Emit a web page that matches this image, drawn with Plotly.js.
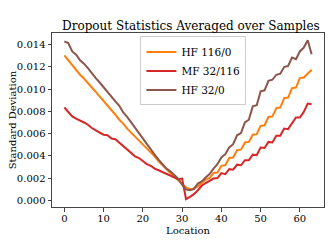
<!DOCTYPE html>
<html>
<head>
<meta charset="utf-8">
<script src="https://cdn.plot.ly/plotly-3.0.1.min.js"></script>
<style>html,body{margin:0;padding:0;background:#fff;}#chart{width:332px;height:249px;}</style>
</head>
<body>
<div id="chart"></div>
<script>
// values in units of 1e-3
const location_ = Array.from({length: 64}, (_, i) => i);
const hf116_0 = [13.05,12.6,12.1,11.7,11.3,10.95,10.5,10.15,9.75,9.35,
  8.95,8.5,8.1,7.7,7.25,6.9,6.45,6.1,5.75,5.4,
  5.05,4.7,4.3,3.95,3.5,3.1,2.8,2.45,2.15,1.8,
  1.45,1.15,1.0,1.05,1.25,1.55,1.85,2.0,2.45,2.5,
  3.1,3.15,3.8,3.85,4.5,4.55,5.2,5.25,5.9,5.95,
  6.7,6.75,7.5,7.55,8.3,8.35,9.2,9.25,10.1,10.15,
  11.0,11.05,11.4,11.75];
const mf32_116 = [8.35,7.9,7.55,7.35,7.2,7.0,6.8,6.5,6.3,6.1,
  5.9,5.85,5.55,5.5,5.2,4.9,4.55,4.25,3.95,3.8,
  3.5,3.25,3.1,2.85,2.7,2.55,2.4,2.25,2.05,1.9,
  1.95,0.1,0.3,0.55,0.9,1.3,1.55,1.75,1.95,2.0,
  2.45,2.35,2.8,2.75,3.2,3.15,3.6,3.6,4.1,4.05,
  4.75,4.7,5.25,5.2,5.8,5.8,6.45,6.4,6.95,7.45,
  7.45,7.95,8.7,8.65];
const hf32_0 = [14.3,14.15,13.4,13.1,12.6,12.3,11.9,11.4,11.0,10.6,
  10.15,9.8,9.3,8.9,8.5,7.9,7.5,7.0,6.5,6.1,
  5.6,5.1,4.6,4.1,3.65,3.2,2.85,2.6,2.25,1.95,
  1.4,0.95,0.9,1.0,1.5,1.7,2.05,2.35,2.85,3.25,
  3.85,4.15,4.75,5.05,5.85,6.05,7.0,7.25,8.45,8.55,
  9.8,9.9,10.75,10.85,11.3,11.4,12.0,12.1,12.85,12.7,
  13.4,13.75,14.4,13.15];
const seriesNames = ['HF 116/0', 'MF 32/116', 'HF 32/0'];
const seriesColors = ['#ff7f0e', '#d62728', '#8c564b'];
const xTicks = [0,10,20,30,40,50,60];
const yTicks = [0,0.002,0.004,0.006,0.008,0.010,0.012,0.014];

const scale = v => v.map(d => d / 1000);
const allSeries = [hf116_0, mf32_116, hf32_0];
const traces = allSeries.map((s, k) => ({
  x: location_, y: scale(s), type: 'scatter', mode: 'lines',
  name: seriesNames[k], line: {color: seriesColors[k], width: 2}
}));

const font = {family: 'DejaVu Serif, serif', size: 10, color: '#000'};
const layout = {
  width: 332, height: 249,
  margin: {l: 52, r: 8, t: 33, b: 42},
  paper_bgcolor: '#fff', plot_bgcolor: '#fff',
  font: font,
  title: {text: 'Dropout Statistics Averaged over Samples', font: {family: 'DejaVu Serif, serif', size: 12, color: '#000'},
          x: 0.575, xanchor: 'center', y: 0.878, yanchor: 'bottom'},
  xaxis: {range: [-3.15, 66.15], tickvals: xTicks, ticktext: xTicks.map(String),
          showgrid: false, zeroline: false, showline: true, mirror: true, linecolor: '#444', linewidth: 1,
          ticks: 'outside', ticklen: 3.5, tickcolor: '#444', ticklabelstandoff: -2},
  yaxis: {range: [-0.00061, 0.01506], tickvals: yTicks, ticktext: yTicks.map(v => v.toFixed(3)),
          showgrid: false, zeroline: false, showline: true, mirror: true, linecolor: '#444', linewidth: 1,
          ticks: 'outside', ticklen: 3.5, tickcolor: '#444'},
  annotations: [
    {text: 'Location', xref: 'paper', yref: 'paper', x: 0.5, y: -0.135, xanchor: 'center', yanchor: 'middle',
     showarrow: false, font: font},
    {text: 'Standard Deviation', xref: 'paper', yref: 'paper', x: -0.146, y: 0.5, xanchor: 'center', yanchor: 'middle',
     textangle: -90, showarrow: false, font: font}
  ],
  legend: {x: 0.325, y: 0.98, xanchor: 'left', yanchor: 'top', bgcolor: 'rgba(255,255,255,0.8)',
           bordercolor: '#ccc', borderwidth: 1, font: {family: 'DejaVu Serif, serif', size: 10.5, color: '#000'},
           tracegroupgap: 0, itemwidth: 30},
  showlegend: true
};
Plotly.newPlot('chart', traces, layout, {displayModeBar: false, staticPlot: true});
</script>
</body>
</html>
